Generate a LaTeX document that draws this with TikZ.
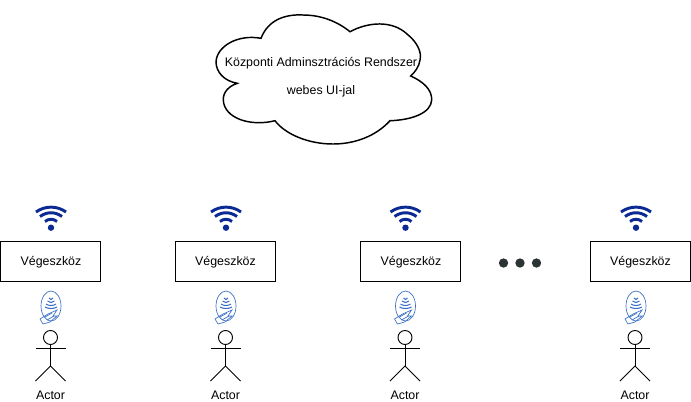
\documentclass[tikz,border=0pt]{standalone}
\usepackage{fontspec}
\setmainfont{Liberation Sans}
\usepackage{tikz}
\usetikzlibrary{calc,positioning}
\definecolor{wifiblue}{HTML}{0B2A94}
\definecolor{tapblue}{HTML}{3B6FC4}
\definecolor{dotgrey}{HTML}{2B3335}
\tikzset{
  devicebox/.style={draw, minimum width=75pt, minimum height=30pt, inner sep=0pt, line width=.75pt},
  caption/.style={inner sep=0pt, font=\fontsize{9.3}{11}\selectfont},
  wave/.style={draw=wifiblue, line width=2.2pt},
  tap/.style={draw=tapblue, line width=.5pt},
  actorline/.style={draw, line width=.7pt},
}
\begin{document}
\begin{tikzpicture}[x=.75pt, y=-.75pt]
\useasboundingbox (0,0) rectangle (691,401);
\draw[line width=1.1pt, fill=white] (261,38.3)
  .. controls (268,20) and (285,14) .. (303,15)
  .. controls (322,15) and (338,22) .. (350,31.7)
  .. controls (368,22) and (392,20) .. (407,34)
  .. controls (417,42) and (422,52) .. (420,60)
  .. controls (419,67) and (415,72) .. (410.7,76)
  .. controls (424,82) and (432,90) .. (431.7,100)
  .. controls (431,113) and (412,120) .. (390,120.7)
  .. controls (376,136) and (355,144) .. (333,144)
  .. controls (308,144) and (285,134) .. (275,120.7)
  .. controls (250,127) and (224,118) .. (223.3,100)
  .. controls (223,92) and (229,86) .. (237.3,83.3)
  .. controls (224,81) and (216,72) .. (216,61.7)
  .. controls (217,46) and (238,34) .. (261,38.3) -- cycle;
\node[caption] (cloudtop) at (321,63) {Központi Adminsztrációs Rendszer};
\node[caption] (cloudbot) at (321,91) {webes UI-jal};
\foreach \i/\bx/\wx/\ax in {0/50.5/51/50.5, 1/225/226/225.5, 2/410.5/405.5/405, 3/640/636/635}{
  \node[devicebox] (box\i) at (\bx,261) {};
  \node[caption] (boxtext\i) at (\bx+.5,262.5) {Végeszköz};
  % wifi
  \fill[wifiblue] (\wx,227.7) circle (3.2);
  \draw[wave] (\wx-6,221.5) .. controls (\wx-2.5,218.5) and (\wx+2.5,218.5) .. (\wx+6,221.5);
  \draw[wave] (\wx-11,216.5) .. controls (\wx-4,211.5) and (\wx+4,211.5) .. (\wx+11,216.5);
  \draw[wave] (\wx-15,212) .. controls (\wx-6,205.5) and (\wx+6,205.5) .. (\wx+15,212);
  % tap
  \draw[tap] (\wx,306) ellipse (10 and 15);
  \foreach \r/\h in {0/2, 3/3.5, 6/5, 9/6}{
    \draw[tap, line width=.8pt] (\wx-\h,298+\r) .. controls (\wx-\h/2,300+\r) and (\wx+\h/2,300+\r) .. (\wx+\h,298+\r);
  }
  \draw[tap] (\wx-11,319) -- (\wx-3,314) -- (\wx+6,310) -- (\wx+2,316) -- (\wx+6,316) -- (\wx-1,322) -- (\wx-8,324) -- cycle;
  \draw[tap] (\wx-6,317) -- (\wx+1,313) (\wx-4,320) -- (\wx+3,316);
  % actor
  \node[draw, circle, line width=.7pt, minimum size=10.5pt, inner sep=0pt] (head\i) at (\ax,337.5) {};
  \coordinate (hip\i) at (\ax,366);
  \coordinate (armL\i) at (\ax-15,348);
  \coordinate (armR\i) at (\ax+15,348);
  \coordinate (legL\i) at (\ax-15,381);
  \coordinate (legR\i) at (\ax+15,381);
  \draw[actorline] (head\i) -- (hip\i);
  \draw[actorline] (armL\i) -- (armR\i);
  \draw[actorline] (legL\i) -- (hip\i) -- (legR\i);
  \node[caption] (actor\i) at (\ax,395) {Actor};
}
\foreach \i/\x in {0/503.5, 1/520, 2/536.5}{
  \node[circle, fill=dotgrey, minimum size=7pt, inner sep=0pt] (dot\i) at (\x,263) {};
}
\end{tikzpicture}
\end{document}
